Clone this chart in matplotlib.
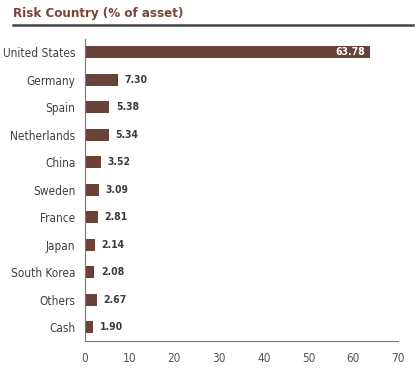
import matplotlib
matplotlib.use("Agg")
import matplotlib.pyplot as plt
from matplotlib import font_manager

countries = ["United States", "Germany", "Spain", "Netherlands", "China", "Sweden",
             "France", "Japan", "South Korea", "Others", "Cash"]
weights = [63.78, 7.30, 5.38, 5.34, 3.52, 3.09, 2.81, 2.14, 2.08, 2.67, 1.90]
x_ticks = [0, 10, 20, 30, 40, 50, 60, 70]

# narrow face if there is one, otherwise condensed DejaVu
names = {f.name for f in font_manager.fontManager.ttflist}
if "Liberation Sans Narrow" in names:
    plt.rcParams["font.family"] = ["Liberation Sans Narrow", "DejaVu Sans"]
else:
    plt.rcParams["font.family"] = ["DejaVu Sans"]
    plt.rcParams["font.stretch"] = "condensed"

bar_color = "#6b4238"
title_color = "#7a4536"

fig = plt.figure(figsize=(4.2, 3.71), dpi=100)
ax = fig.add_axes([85 / 420, 1 - 341 / 371, (398 - 85) / 420, (341 - 39) / 371])

ypos = list(range(len(countries)))
ax.barh(ypos, weights, height=0.45, color=bar_color)
for y, v in zip(ypos, weights):
    if v > 30:
        ax.text(v - 1.2, y, f"{v:.2f}", ha="right", va="center", color="white",
                fontsize=7.5, fontweight="bold")
    else:
        ax.text(v + 1.5, y, f"{v:.2f}", ha="left", va="center", color="#3a3a3a",
                fontsize=7.5, fontweight="bold")

ax.set_ylim(len(countries) - 0.5, -0.48)
ax.set_xlim(0, 70)
ax.set_yticks(ypos)
ax.set_yticklabels(countries, fontsize=8.5, color="#404040")
ax.set_xticks(x_ticks)
ax.set_xticklabels([str(t) for t in x_ticks], fontsize=8.5, color="#555555")
ax.tick_params(length=0)
ax.tick_params(axis="x", pad=8)
ax.tick_params(axis="y", pad=7)
for s in ["top", "right"]:
    ax.spines[s].set_visible(False)
for s in ["left", "bottom"]:
    ax.spines[s].set_color("#777777")
    ax.spines[s].set_linewidth(0.8)

fig.text(13 / 420, 1 - 14 / 371, "Risk Country (% of asset)", fontsize=9.5,
         fontweight="bold", color=title_color, va="center", ha="left")
fig.add_artist(plt.Line2D([13 / 420, 413 / 420], [1 - 25 / 371, 1 - 25 / 371],
                          color="#444444", linewidth=1.8))

fig.savefig("out.png", dpi=100)
